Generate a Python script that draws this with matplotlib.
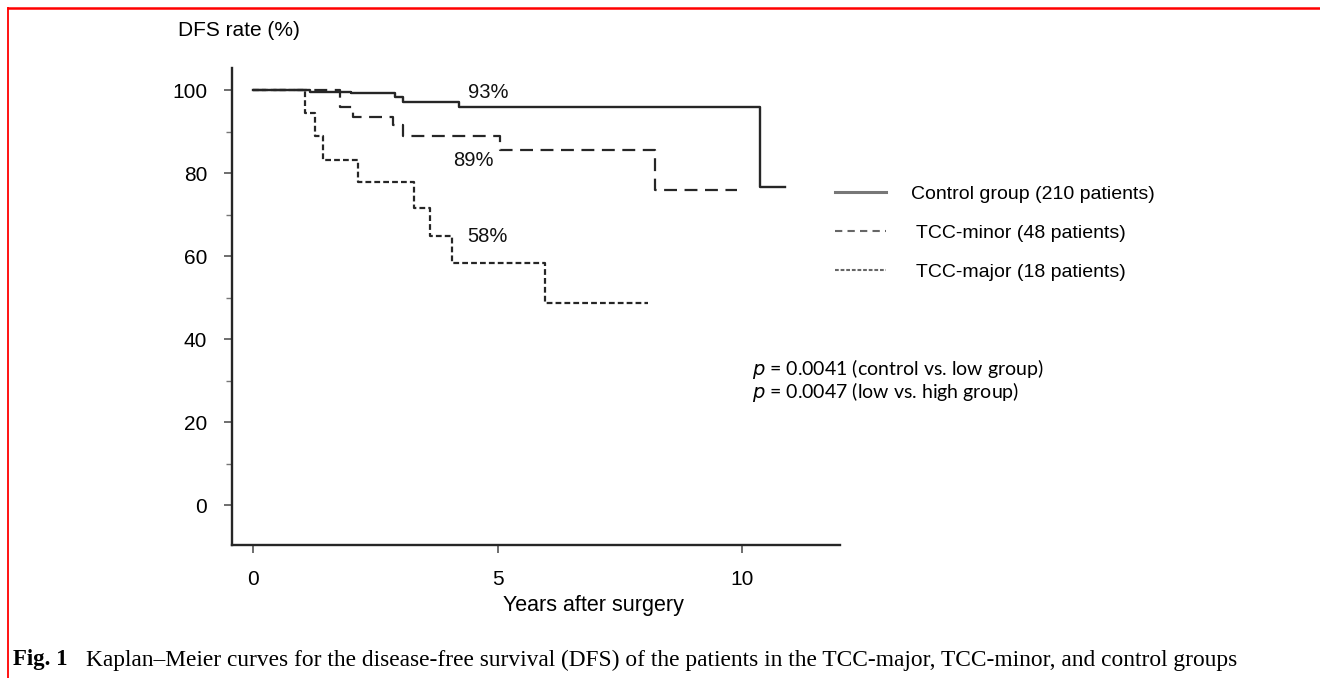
import matplotlib
matplotlib.use('Agg')

import matplotlib.pyplot as plt
from matplotlib.lines import Line2D

# Kaplan-Meier step data (years, DFS %)
control_t = [0, 1.17, 2.0, 2.9, 3.07, 4.2, 10.37, 10.88]
control_s = [100, 99.6, 99.2, 98.3, 97.2, 95.9, 76.6, 76.6]

minor_t = [0, 1.78, 2.05, 2.86, 3.07, 5.04, 8.22, 9.89]
minor_s = [100, 96.0, 93.6, 91.6, 88.8, 85.5, 76.0, 76.0]

major_t = [0, 1.07, 1.27, 1.43, 2.14, 3.29, 3.62, 4.06, 5.96, 8.07]
major_s = [100, 94.4, 88.9, 83.2, 77.8, 71.6, 64.8, 58.4, 48.8, 48.8]

labels = ["Control group (210 patients)", " TCC-minor (48 patients)", " TCC-major (18 patients)"]
pct_text = ["93%", "89%", "58%"]
pct_pos = [(4.8, 99.3), (4.5, 83.0), (4.8, 64.6)]
x_ticks = [0, 5, 10]
y_ticks = [0, 20, 40, 60, 80, 100]
y_minor = [10, 30, 50, 70, 90]

sans = "Liberation Sans"
ink = "#262626"
dash_minor = (0, (5.8, 3.4))
dash_major = (0, (2.6, 1.4))

fig = plt.figure(figsize=(13.2, 6.78), dpi=100)
ax = fig.add_axes([0.1758, 0.1962, 0.4606, 0.7035])

ax.step(control_t, control_s, where="post", color=ink, lw=1.7)
ax.step(minor_t, minor_s, where="post", color=ink, lw=1.6, linestyle=dash_minor)
ax.step(major_t, major_s, where="post", color=ink, lw=1.6, linestyle=dash_major)

for txt, (x, y) in zip(pct_text, pct_pos):
    ax.text(x, y, txt, ha="center", va="center", fontsize=14.5, family=sans, color="#111")

ax.set_xlim(-0.43, 12.0)
ax.set_ylim(-9.6, 105.3)
ax.set_xticks(x_ticks)
ax.set_yticks(y_ticks)
ax.set_yticks(y_minor, minor=True)
ax.spines["top"].set_visible(False)
ax.spines["right"].set_visible(False)
for s in ("left", "bottom"):
    ax.spines[s].set_linewidth(1.7)
    ax.spines[s].set_color(ink)
ax.tick_params(axis="both", which="major", length=6, width=1.2, color="#555",
               labelsize=15, pad=12)
ax.tick_params(axis="y", which="minor", length=4, width=1.0, color="#777")
for lab in ax.get_xticklabels() + ax.get_yticklabels():
    lab.set_family(sans)

ax.set_xlabel("Years after surgery", fontsize=15.5, family=sans)
ax.xaxis.set_label_coords(0.595, -0.105)
fig.text(178 / 1320, 1 - 30 / 678, "DFS rate (%)", fontsize=15, family=sans,
         ha="left", va="center")

handles = [
    Line2D([], [], color="#777", lw=2.2),
    Line2D([], [], color="#666", lw=1.5, linestyle=(0, (3.5, 2.5))),
    Line2D([], [], color="#666", lw=1.5, linestyle=(0, (1.8, 0.9))),
]
fig.legend(handles, labels, loc="center left", bbox_to_anchor=(835 / 1320, 1 - 233 / 678),
           frameon=False, prop={"family": sans, "size": 14}, handlelength=2.6,
           handletextpad=1.3, labelspacing=1.1, borderpad=0, borderaxespad=0)

fig.text(752 / 1320, 1 - 369 / 678, r"$\it{p}$ = 0.0041 (control vs. low group)",
         fontsize=14, family="Lato", ha="left", va="center")
fig.text(752 / 1320, 1 - 392 / 678, r"$\it{p}$ = 0.0047 (low vs. high group)",
         fontsize=14, family="Lato", ha="left", va="center")

# caption
fig.text(13 / 1320, 1 - 660 / 678, "Fig. 1", fontsize=16.5, family="Liberation Serif",
         weight="bold", ha="left", va="center")
fig.text(86 / 1320, 1 - 660 / 678,
         "Kaplan\u2013Meier curves for the disease-free survival (DFS) of the patients in the "
         "TCC-major, TCC-minor, and control groups",
         fontsize=16.8, family="Liberation Serif", ha="left", va="center")

# red frame (cropped)
fig.add_artist(Line2D([8 / 1320, 1], [1 - 8 / 678, 1 - 8 / 678], transform=fig.transFigure,
                      color="red", lw=1.8))
fig.add_artist(Line2D([8 / 1320, 8 / 1320], [0, 1 - 8 / 678], transform=fig.transFigure,
                      color="red", lw=1.3))

fig.savefig("out.png", dpi=100)
